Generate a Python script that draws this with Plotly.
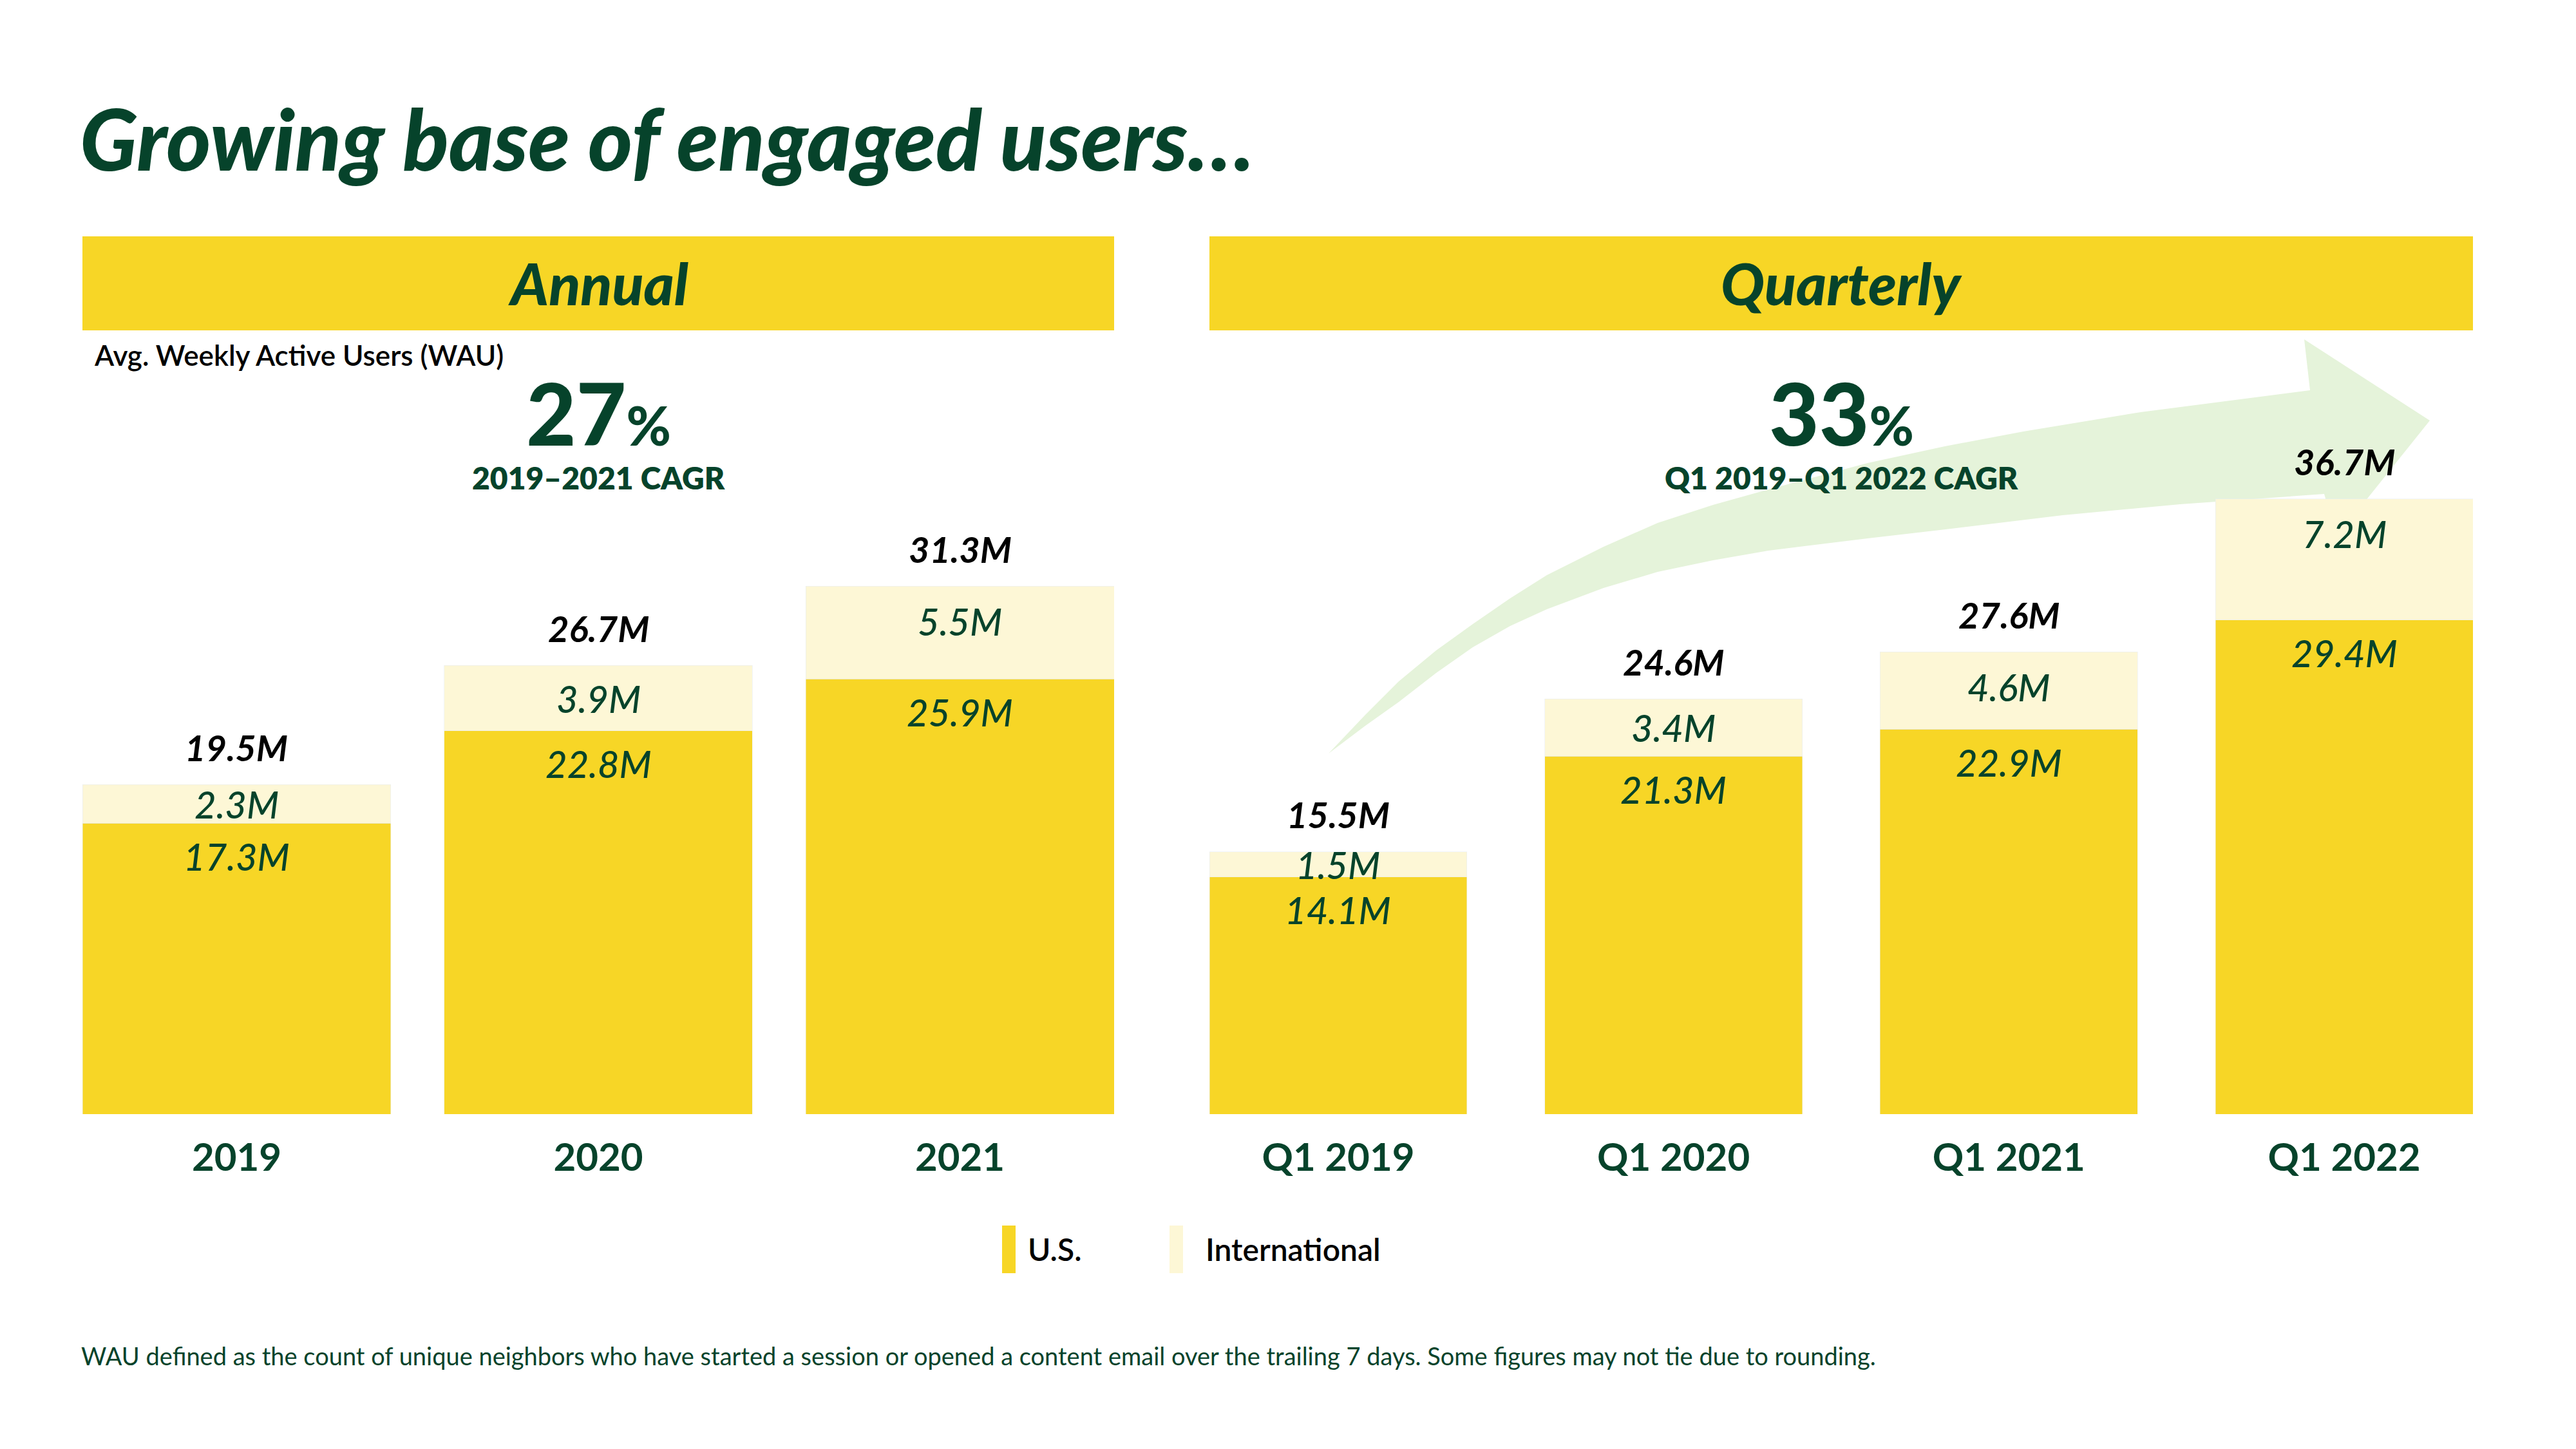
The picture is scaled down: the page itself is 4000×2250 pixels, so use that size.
import plotly.graph_objects as go

# ---------------- data ----------------
annual_cats = ["2019", "2020", "2021"]
annual_us = [17.3, 22.8, 25.9]
annual_intl = [2.3, 3.9, 5.5]
annual_total = [19.5, 26.7, 31.3]

q_cats = ["Q1 2019", "Q1 2020", "Q1 2021", "Q1 2022"]
q_us = [14.1, 21.3, 22.9, 29.4]
q_intl = [1.5, 3.4, 4.6, 7.2]
q_total = [15.5, 24.6, 27.6, 36.7]

series_names = ["U.S.", "International"]

# ---------------- style ----------------
W, H = 4000, 2250
YELLOW = "#F7D626"
CREAM = "#FDF7D6"
GREEN = "#06432B"
ARROW = "#E5F3DA"
FONT = "Lato"
PX_PER_M = 26.1
YMAX = 40


def px(x):
    return x / W


def py(y):
    return 1 - y / H


y_bottom = 1730
y_top = y_bottom - YMAX * PX_PER_M

fig = go.Figure()

w_a = 0.853
w_q = 0.768

fig.add_trace(go.Bar(x=annual_cats, y=annual_us, name=series_names[0], marker_color=YELLOW,
                     width=w_a, xaxis="x", yaxis="y", showlegend=False, hoverinfo="skip"))
fig.add_trace(go.Bar(x=annual_cats, y=annual_intl, name=series_names[1], marker_color=CREAM,
                     width=w_a, xaxis="x", yaxis="y", showlegend=False, hoverinfo="skip"))
fig.add_trace(go.Bar(x=q_cats, y=q_us, name=series_names[0], marker_color=YELLOW,
                     width=w_q, xaxis="x2", yaxis="y2", showlegend=False, hoverinfo="skip"))
fig.add_trace(go.Bar(x=q_cats, y=q_intl, name=series_names[1], marker_color=CREAM,
                     width=w_q, xaxis="x2", yaxis="y2", showlegend=False, hoverinfo="skip"))

annotations = []


def seg_labels(cats, us, intl, total, xref, yref):
    for idx, (c, u, i, t) in enumerate(zip(cats, us, intl, total)):
        top = u + i
        annotations.append(dict(x=idx, y=u, xref=xref, yref=yref, text=f"{u}M", showarrow=False,
                                yshift=-51, yanchor="middle",
                                font=dict(family=FONT, size=58, color=GREEN, style="italic", weight=500)))
        seg_px = i * PX_PER_M
        annotations.append(dict(x=idx, y=top, xref=xref, yref=yref, text=f"{i}M", showarrow=False,
                                yshift=-min(54, seg_px / 2), yanchor="middle",
                                font=dict(family=FONT, size=58, color=GREEN, style="italic", weight=500)))
        annotations.append(dict(x=idx, y=top, xref=xref, yref=yref, text=f"{t}M", showarrow=False,
                                yshift=58, yanchor="middle",
                                font=dict(family=FONT, size=56, color="#000000", style="italic", weight=700)))


seg_labels(annual_cats, annual_us, annual_intl, annual_total, "x", "y")
seg_labels(q_cats, q_us, q_intl, q_total, "x2", "y2")

# title & texts
annotations += [
    dict(x=px(122), y=py(214), xref="paper", yref="paper", xanchor="left", yanchor="middle",
         text="Growing base of engaged users…", showarrow=False,
         font=dict(family=FONT, size=132, color=GREEN, style="italic", weight=900)),
    dict(x=px(929), y=py(439), xref="paper", yref="paper", xanchor="center", yanchor="middle",
         text="Annual", showarrow=False,
         font=dict(family=FONT, size=90, color=GREEN, style="italic", weight=900)),
    dict(x=px(2859), y=py(439), xref="paper", yref="paper", xanchor="center", yanchor="middle",
         text="Quarterly", showarrow=False,
         font=dict(family=FONT, size=90, color=GREEN, style="italic", weight=900)),
    dict(x=px(144), y=py(551), xref="paper", yref="paper", xanchor="left", yanchor="middle",
         text="Avg. Weekly Active Users (WAU)", showarrow=False,
         font=dict(family=FONT, size=44, color="#000000", weight=600)),
    dict(x=px(929), y=py(640), xref="paper", yref="paper", xanchor="center", yanchor="middle",
         text="27<span style='font-size:84px'>%</span>", showarrow=False,
         font=dict(family=FONT, size=134, color=GREEN, weight=900)),
    dict(x=px(929), y=py(742), xref="paper", yref="paper", xanchor="center", yanchor="middle",
         text="2019–2021 CAGR", showarrow=False,
         font=dict(family=FONT, size=48, color=GREEN, weight=800)),
    dict(x=px(2859), y=py(640), xref="paper", yref="paper", xanchor="center", yanchor="middle",
         text="33<span style='font-size:84px'>%</span>", showarrow=False,
         font=dict(family=FONT, size=134, color=GREEN, weight=900)),
    dict(x=px(2859), y=py(742), xref="paper", yref="paper", xanchor="center", yanchor="middle",
         text="Q1 2019–Q1 2022 CAGR", showarrow=False,
         font=dict(family=FONT, size=48, color=GREEN, weight=800)),
    # legend
    dict(x=px(1594), y=py(1939), xref="paper", yref="paper", xanchor="left", yanchor="middle",
         text=series_names[0], showarrow=False,
         font=dict(family=FONT, size=48, color="#000000", weight=600)),
    dict(x=px(1870), y=py(1939), xref="paper", yref="paper", xanchor="left", yanchor="middle",
         text=series_names[1], showarrow=False,
         font=dict(family=FONT, size=48, color="#000000", weight=600)),
    # footnote
    dict(x=px(124), y=py(2105), xref="paper", yref="paper", xanchor="left", yanchor="middle",
         text="WAU defined as the count of unique neighbors who have started a session or opened a content email over the trailing 7 days. Some figures may not tie due to rounding.",
         showarrow=False, font=dict(family=FONT, size=38, color=GREEN, weight=400)),
]

# arrow outline (decorative), pixel coords
upper = [(2063, 1170), (2120, 1110), (2172, 1058), (2230, 1010), (2287, 969), (2345, 929), (2402, 893),
         (2490, 849), (2574, 812), (2660, 784), (2746, 760), (2900, 719), (3020, 693), (3142, 670),
         (3324, 640), (3587, 606)]
head = [(3578, 527), (3773, 653), (3628, 834), (3609, 767)]
lower = [(3385, 783), (3203, 800), (3021, 822), (2900, 836), (2746, 855), (2660, 870), (2574, 888),
         (2490, 913), (2402, 946), (2345, 972), (2287, 1005), (2230, 1045), (2172, 1090), (2120, 1127)]
pts = upper + head + lower
path = "M " + " L ".join(f"{px(x):.5f},{py(y):.5f}" for x, y in pts) + " Z"

shapes = [
    dict(type="path", path=path, xref="paper", yref="paper", fillcolor=ARROW, line=dict(width=0), layer="below"),
    dict(type="rect", x0=px(128), x1=px(1730), y0=py(513), y1=py(367), xref="paper", yref="paper",
         fillcolor=YELLOW, line=dict(width=0), layer="below"),
    dict(type="rect", x0=px(1878), x1=px(3840), y0=py(513), y1=py(367), xref="paper", yref="paper",
         fillcolor=YELLOW, line=dict(width=0), layer="below"),
    dict(type="rect", x0=px(1556), x1=px(1577), y0=py(1977), y1=py(1903), xref="paper", yref="paper",
         fillcolor=YELLOW, line=dict(width=0)),
    dict(type="rect", x0=px(1816), x1=px(1837), y0=py(1977), y1=py(1903), xref="paper", yref="paper",
         fillcolor=CREAM, line=dict(width=0)),
]

tickfont = dict(family=FONT, size=60, color=GREEN, weight=700)

fig.update_layout(
    width=W, height=H,
    margin=dict(l=0, r=0, t=0, b=0),
    paper_bgcolor="white", plot_bgcolor="rgba(0,0,0,0)",
    barmode="stack", showlegend=False,
    xaxis=dict(domain=[px(128), px(1730)], range=[-w_a / 2, 2 + w_a / 2], type="category",
               showgrid=False, zeroline=False, showline=False, ticks="outside", ticklen=0,
               tickfont=tickfont, ticklabelstandoff=15, fixedrange=True),
    xaxis2=dict(domain=[px(1878), px(3840)], range=[-w_q / 2, 3 + w_q / 2], type="category",
                showgrid=False, zeroline=False, showline=False, ticks="outside", ticklen=0,
                tickfont=tickfont, ticklabelstandoff=15, anchor="y2", fixedrange=True),
    yaxis=dict(domain=[py(y_bottom), py(y_top)], range=[0, YMAX], visible=False, fixedrange=True),
    yaxis2=dict(domain=[py(y_bottom), py(y_top)], range=[0, YMAX], visible=False, anchor="x2",
                fixedrange=True),
    annotations=annotations,
    shapes=shapes,
)

fig.write_html("out.html", config={"displayModeBar": False},
               post_script="document.body.style.margin='0px';document.body.style.padding='0px';")
